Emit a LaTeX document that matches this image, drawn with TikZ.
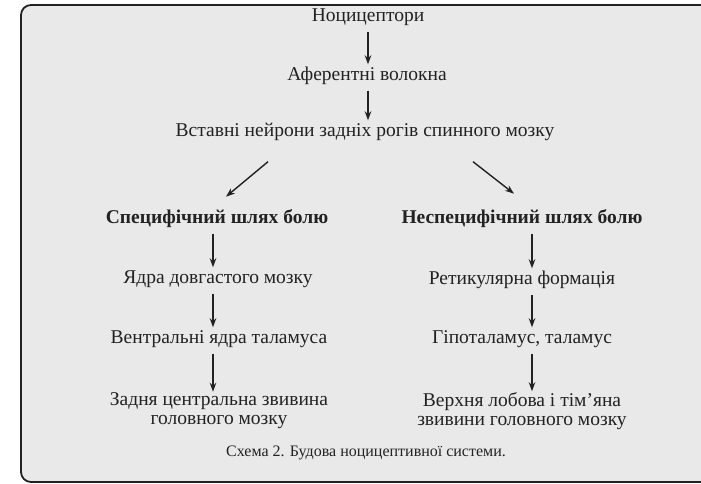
\documentclass[tikz,border=0pt]{standalone}
\usepackage{fontspec}
\setmainfont{Liberation Serif}
\usetikzlibrary{arrows.meta,calc}
\definecolor{txt}{HTML}{222222}
\definecolor{panel}{HTML}{E9E9E9}
\tikzset{
  lbl/.style={text=txt, font=\fontsize{19.5}{19}\selectfont, inner sep=0pt,
              text height=10pt, text depth=3pt},
  head/.style={lbl, font=\fontsize{19.5}{19}\selectfont\bfseries},
  twoline/.style={text=txt, font=\fontsize{19.5}{19}\selectfont, inner sep=0pt, align=center},
  capt/.style={text=txt, font=\fontsize{16}{18}\selectfont, inner sep=1pt},
  arr/.style={draw=txt, line width=1.4pt, -{Stealth[length=9pt,width=6.5pt]}},
  vflow/.style={arr, shorten <=7pt, shorten >=6pt},
}
\begin{document}
\begin{tikzpicture}[x=1pt,y=1pt]
\useasboundingbox (0,0) rectangle (701,484);
\fill[white] (0,0) rectangle (701,484);
% panel
\draw[fill=panel, draw=txt, line width=1.8pt, rounded corners=10pt] (21,2) rectangle (720,479);

% central chain
\node[lbl] (n1) at (368,466) {Ноцицептори};
\node[lbl] (n2) at (367,407) {Аферентні волокна};
\node[lbl] (n3) at (365,351) {Вставні нейрони задніх рогів спинного мозку};

% left branch
\node[head]    (l1) at (217,264) {Специфічний шлях болю};
\node[lbl]     (l2) at (218,204) {Ядра довгастого мозку};
\node[lbl]     (l3) at (219,144) {Вентральні ядра таламуса};
\node[twoline] (l4) at (219,73)  {Задня центральна звивина\\головного мозку};

% right branch
\node[head]    (r1) at (522,264) {Неспецифічний шлях болю};
\node[lbl]     (r2) at (522,203) {Ретикулярна формація};
\node[lbl]     (r3) at (522,144) {Гіпоталамус, таламус};
\node[twoline] (r4) at (522,73)  {Верхня лобова і тім’яна\\звивини головного мозку};

\node[capt] (cap) at (366,31) {Схема 2. Будова ноцицептивної системи.};

% arrow columns
\coordinate (cx) at (368,0);
\coordinate (lx) at (213,0);
\coordinate (rx) at (532,0);

\draw[vflow] (n1.south -| cx) -- (n2.north -| cx);
\draw[vflow] (n2.south -| cx) -- (n3.north -| cx);

% branching arrows
\path (n3.south) ++(-97,-22) coordinate (dl0) ++(-42,-35) coordinate (dl1);
\path (n3.south) ++(108,-22) coordinate (dr0) ++(41,-32) coordinate (dr1);
\draw[arr] (dl0) -- (dl1);
\draw[arr] (dr0) -- (dr1);

\draw[vflow] (l1.south -| lx) -- (l2.north -| lx);
\draw[vflow] (l2.south -| lx) -- (l3.north -| lx);
\draw[arr, shorten <=7pt, shorten >=1pt] (l3.south -| lx) -- (l4.north -| lx);

\draw[vflow] (r1.south -| rx) -- (r2.north -| rx);
\draw[vflow] (r2.south -| rx) -- (r3.north -| rx);
\draw[arr, shorten <=7pt, shorten >=1pt] (r3.south -| rx) -- (r4.north -| rx);
\end{tikzpicture}
\end{document}
